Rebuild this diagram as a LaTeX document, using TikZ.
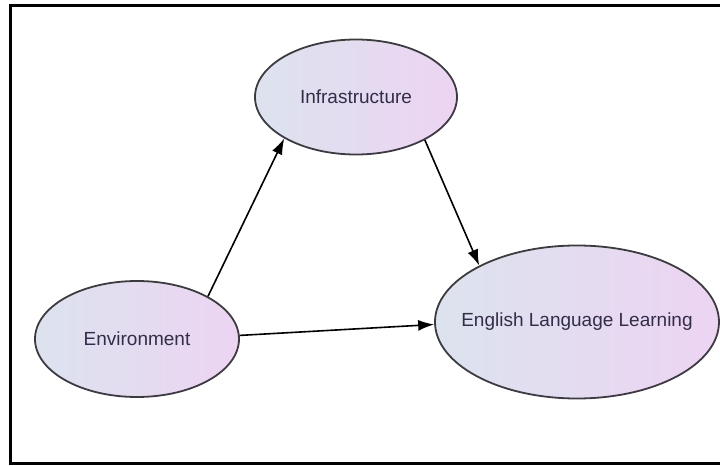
\documentclass[tikz,border=0pt]{standalone}
\usepackage{fontspec}
\setmainfont{Liberation Sans}
\usetikzlibrary{shapes.geometric}
\usetikzlibrary{arrows.meta}

\definecolor{nodeleft}{RGB}{220,227,238}
\definecolor{noderight}{RGB}{237,212,243}
\definecolor{nodeline}{RGB}{60,60,64}
\definecolor{nodetext}{RGB}{50,45,72}

\begin{document}
\begin{tikzpicture}[
        x=0.5pt,y=-0.5pt,
        semithick,
        concept/.style={ellipse,draw=nodeline,line width=0.9pt,
          left color=nodeleft,right color=noderight,
          text=nodetext,font=\fontsize{9.5}{11}\selectfont,
          inner ysep=0pt,inner xsep=-20pt},
        link/.style={-{Latex[length=8pt,width=5.5pt]},line width=0.8pt,black}
      ]
        \useasboundingbox (0,0) rectangle (720,466);
        \draw[line width=1.5pt] (720,6) -- (11,6) -- (11,464) -- (720,464);

        \node[concept,minimum width=101pt,minimum height=57.5pt] (infra) at (356,97) {Infrastructure};
        \node[concept,minimum width=102pt,minimum height=58pt] (env) at (137,339) {Environment};
        \node[concept,minimum width=142pt,minimum height=76.5pt] (ell) at (577,322) {English Language Learning};

        \draw[link] (env.31) -- (infra.210);
        \draw[link] (infra.-32) -- (ell.150);
        \draw[link] (env.2) -- (ell.181);
      \end{tikzpicture}
\end{document}
